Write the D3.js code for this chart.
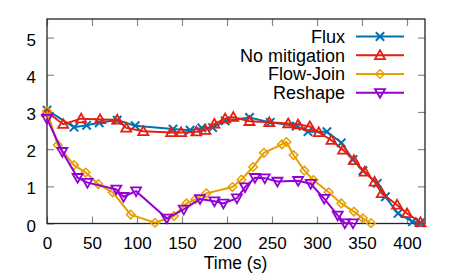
<!DOCTYPE html>
<html><head><meta charset="utf-8">
<script src="https://cdn.jsdelivr.net/npm/d3@7"></script>
<style>body{margin:0;background:#fff}svg{display:block}text{font-family:"Liberation Sans",Arial,sans-serif}</style>
</head><body>
<svg id="c" width="457" height="274"></svg>
<script>
const xTicks = [0,50,100,150,200,250,300,350,400];
const yTicks = [0,1,2,3,4,5];
const xLabel = "Time (s)";
const seriesNames = ["Flux","No mitigation","Flow-Join","Reshape"];
const fluxT = [0,30,44,58,78,98,140,159,172,184,198,225,248,277,290,311,327,340,351,367,376,390,406,415];
const fluxV = [3.05,2.59,2.64,2.71,2.78,2.63,2.54,2.51,2.57,2.58,2.76,2.85,2.72,2.62,2.47,2.47,2.17,1.72,1.42,1.08,0.72,0.27,0.05,0.02];
const noMitT = [0,18,38,59,78,88,107,138,149,166,176,186,198,207,225,247,268,279,292,302,316,329,341,353,364,372,389,400,415];
const noMitV = [3.0,2.67,2.82,2.8,2.79,2.57,2.48,2.45,2.45,2.47,2.51,2.68,2.82,2.86,2.75,2.72,2.69,2.66,2.61,2.45,2.24,1.98,1.7,1.39,1.12,0.81,0.5,0.27,0.03];
const flowJoinT = [0,12,30,43,57,73,93,120,141,155,165,177,206,216,229,241,261,266,274,286,296,313,327,341,351,360];
const flowJoinV = [3.02,2.11,1.57,1.37,1.06,0.84,0.24,0.02,0.2,0.54,0.65,0.81,0.98,1.18,1.52,1.9,2.13,2.19,1.84,1.42,1.17,0.84,0.54,0.32,0.14,0.01];
const reshapeT = [0,17,34,45,77,85,99,133,152,170,186,196,211,220,231,242,256,279,293,308,323,331,340];
const reshapeV = [2.82,1.93,1.23,1.1,0.92,0.72,0.87,0.14,0.38,0.66,0.6,0.54,0.68,0.98,1.23,1.22,1.13,1.15,1.07,0.67,0.22,0.01,0.01];
const colors = ["#0072B2","#E51E10","#E69F00","#9400D3"];
const shapes = ["cross","triUp","diamond","triDown"];

const series = [
  {name:seriesNames[0], t:fluxT, v:fluxV},
  {name:seriesNames[1], t:noMitT, v:noMitV},
  {name:seriesNames[2], t:flowJoinT, v:flowJoinV},
  {name:seriesNames[3], t:reshapeT, v:reshapeV}
];

const L=47,R=425,T=19,B=223.5;
const FS=18, TFS=17;
const x = d3.scaleLinear().domain([0,420]).range([L,R]);
const y = d3.scaleLinear().domain([0,5.5]).range([B,T]);
const svg = d3.select("#c");
const fmt = d3.format("d");

const gx = svg.append("g").attr("transform",`translate(0,${B})`)
  .call(d3.axisBottom(x).tickValues(xTicks).tickFormat(fmt).tickSizeInner(-7).tickSizeOuter(0).tickPadding(13.5));
const gxt = svg.append("g").attr("transform",`translate(0,${T})`)
  .call(d3.axisTop(x).tickValues(xTicks).tickSizeInner(-7).tickSizeOuter(0).tickFormat(""));
const gy = svg.append("g").attr("transform",`translate(${L},0)`)
  .call(d3.axisLeft(y).tickValues(yTicks).tickFormat(fmt).tickSizeInner(-7).tickSizeOuter(0).tickPadding(11));
const gyr = svg.append("g").attr("transform",`translate(${R},0)`)
  .call(d3.axisRight(y).tickValues(yTicks).tickSizeInner(-7).tickSizeOuter(0).tickFormat(""));
[gx,gxt,gy,gyr].forEach(g=>{
  g.select(".domain").remove();
  g.selectAll(".tick line").attr("stroke","#888").attr("stroke-width",1.2);
  g.selectAll("text").attr("font-size",TFS).attr("fill","#000").attr("font-family","Liberation Sans, Arial, sans-serif");
});
gy.selectAll("text").attr("dy","0.45em");
svg.append("rect").attr("x",L).attr("y",T).attr("width",R-L).attr("height",B-T)
  .attr("fill","none").attr("stroke","#222").attr("stroke-width",1.3);

svg.append("text").attr("x",235.5).attr("y",269).attr("text-anchor","middle")
  .attr("font-size",17.5).text(xLabel);

function marker(g, shape, cx, cy, color){
  if(shape==="cross"){
    const s=4.2;
    g.append("path").attr("d",`M${cx-s},${cy-s}L${cx+s},${cy+s}M${cx-s},${cy+s}L${cx+s},${cy-s}`)
      .attr("stroke",color).attr("stroke-width",2).attr("fill","none");
  } else if(shape==="triUp"){
    const s=5;
    g.append("path").attr("d",`M${cx},${cy-s}L${cx+s},${cy+s*0.75}L${cx-s},${cy+s*0.75}Z`)
      .attr("stroke",color).attr("stroke-width",1.8).attr("fill","none");
  } else if(shape==="triDown"){
    const s=5;
    g.append("path").attr("d",`M${cx},${cy+s}L${cx+s},${cy-s*0.75}L${cx-s},${cy-s*0.75}Z`)
      .attr("stroke",color).attr("stroke-width",1.8).attr("fill","none");
  } else {
    const s=4.3;
    g.append("path").attr("d",`M${cx},${cy-s}L${cx+s},${cy}L${cx},${cy+s}L${cx-s},${cy}Z`)
      .attr("stroke",color).attr("stroke-width",1.5).attr("fill","none");
  }
}

const line = d3.line().x(d=>x(d[0])).y(d=>y(d[1]));
series.forEach((s,i)=>{
  const pts = s.t.map((t,k)=>[t,s.v[k]]);
  const g = svg.append("g");
  g.append("path").datum(pts).attr("d",line).attr("fill","none")
    .attr("stroke",colors[i]).attr("stroke-width",2);
  pts.forEach(p=>marker(g,shapes[i],x(p[0]),y(p[1]),colors[i]));
});

const legY = [36.5,55.3,74,92.8];
series.forEach((s,i)=>{
  const g = svg.append("g");
  g.append("text").attr("x",345).attr("y",legY[i]).attr("dy","0.35em").attr("text-anchor","end")
    .attr("font-size",FS).text(s.name);
  g.append("line").attr("x1",356).attr("x2",404).attr("y1",legY[i]).attr("y2",legY[i])
    .attr("stroke",colors[i]).attr("stroke-width",2);
  marker(g,shapes[i],380,legY[i],colors[i]);
});
</script>
</body></html>
